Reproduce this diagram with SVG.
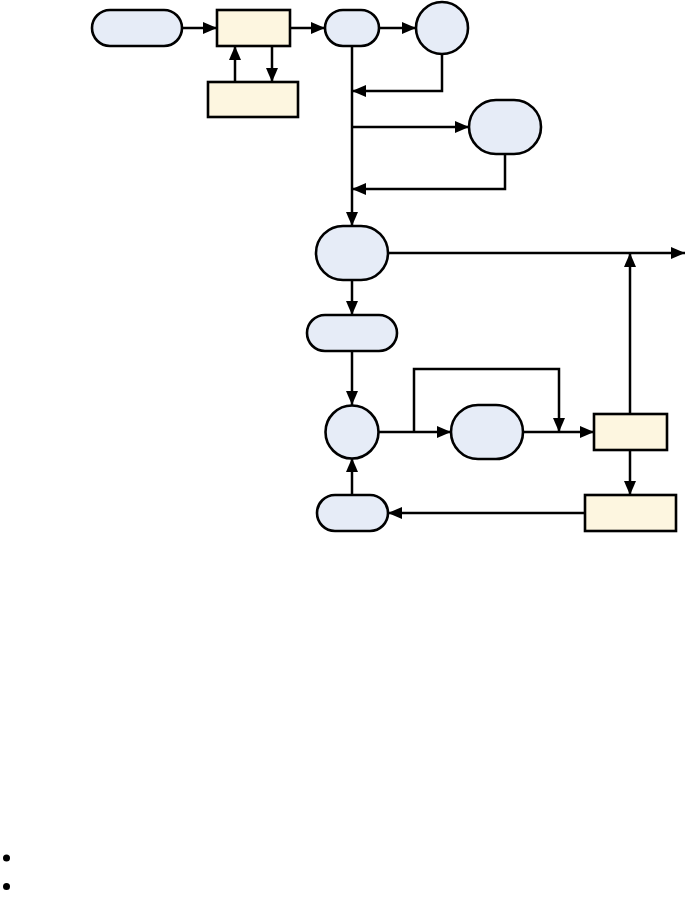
<svg xmlns="http://www.w3.org/2000/svg" width="685" height="900" viewBox="0 0 685 900">
<style>
.b{fill:#e6ecf7;stroke:#000;stroke-width:2.6}
.y{fill:#fdf6e0;stroke:#000;stroke-width:2.6}
.c{fill:none;stroke:#000;stroke-width:2.5}
</style>
<defs>
<marker id="a" viewBox="0 0 14 12" refX="14" refY="6" markerWidth="14" markerHeight="12" markerUnits="userSpaceOnUse" orient="auto">
<path d="M0,0 L14,6 L0,12 z" fill="#000"/>
</marker>
</defs>
<rect width="685" height="900" fill="#fff"/>
<g id="connectors">
<path class="c" d="M182,28 H217" marker-end="url(#a)"/>
<path class="c" d="M290,28 H325" marker-end="url(#a)"/>
<path class="c" d="M379,28 H416" marker-end="url(#a)"/>
<path class="c" d="M235,82 V46" marker-end="url(#a)"/>
<path class="c" d="M272,46 V82" marker-end="url(#a)"/>
<path class="c" d="M352,46 V226" marker-end="url(#a)"/>
<path class="c" d="M442,54 V91 H352" marker-end="url(#a)"/>
<path class="c" d="M352,127 H469" marker-end="url(#a)"/>
<path class="c" d="M505,154 V189 H352" marker-end="url(#a)"/>
<path class="c" d="M388,253 H685" marker-end="url(#a)"/>
<path class="c" d="M630,414 V253" marker-end="url(#a)"/>
<path class="c" d="M352,280 V315" marker-end="url(#a)"/>
<path class="c" d="M352,351 V405" marker-end="url(#a)"/>
<path class="c" d="M379,432 H451" marker-end="url(#a)"/>
<path class="c" d="M414,432 V369 H559 V432" marker-end="url(#a)"/>
<path class="c" d="M523,432 H594" marker-end="url(#a)"/>
<path class="c" d="M630,450 V495" marker-end="url(#a)"/>
<path class="c" d="M585,513 H388" marker-end="url(#a)"/>
<path class="c" d="M352,495 V458" marker-end="url(#a)"/>
</g>
<g id="n1"><rect class="b" x="92" y="10" width="90" height="36" rx="18"/></g>
<g id="n2"><rect class="y" x="217" y="10" width="73" height="36"/></g>
<g id="n3"><rect class="b" x="325" y="10" width="54" height="36" rx="18"/></g>
<g id="n4"><circle class="b" cx="442" cy="28" r="26"/></g>
<g id="n5"><rect class="y" x="208" y="82" width="90" height="35"/></g>
<g id="n6"><rect class="b" x="469" y="100" width="72" height="54" rx="27"/></g>
<g id="n7"><rect class="b" x="316" y="226" width="72" height="54" rx="27"/></g>
<g id="n8"><rect class="b" x="307" y="315" width="90" height="36" rx="18"/></g>
<g id="n9"><circle class="b" cx="352" cy="432" r="26.5"/></g>
<g id="n10"><rect class="b" x="451" y="405" width="72" height="54" rx="27"/></g>
<g id="n11"><rect class="y" x="594" y="414" width="73" height="36"/></g>
<g id="n12"><rect class="y" x="585" y="495" width="91" height="36"/></g>
<g id="n13"><rect class="b" x="317" y="495" width="71" height="36" rx="18"/></g>
<g id="bullets">
<circle cx="6.5" cy="858" r="3.5" fill="#000"/>
<circle cx="6.5" cy="886.5" r="3.5" fill="#000"/>
</g>
</svg>
